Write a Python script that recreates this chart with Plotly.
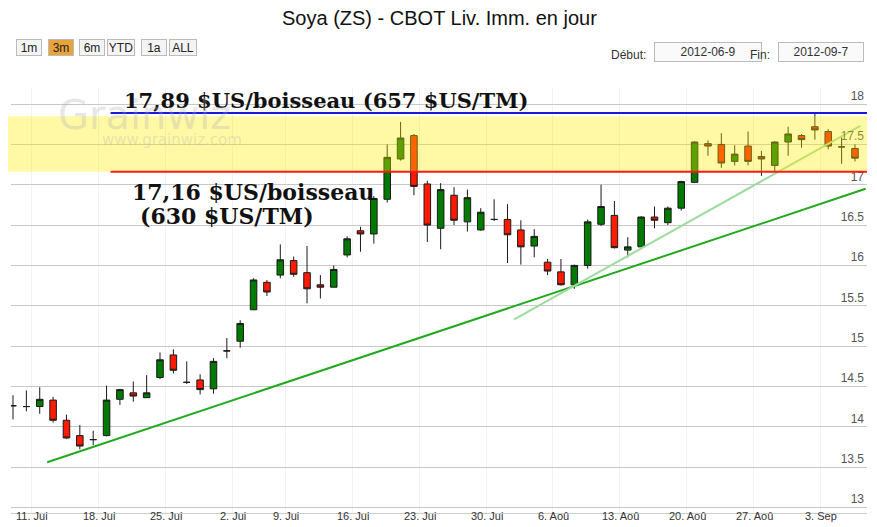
import pandas as pd
import plotly.graph_objects as go

# trading days 2012-06-08 .. 2012-09-07 (no 4 Jul, no 3 Sep)
dates = [d for d in pd.bdate_range("2012-06-08", "2012-09-07")
         if d.strftime("%m-%d") not in ("07-04", "09-03")]

opens = [14.26, 14.25, 14.25, 14.33, 14.08, 13.89, 13.84, 13.89, 14.34, 14.42,
         14.36, 14.61, 14.89, 14.55, 14.58, 14.47, 14.94, 15.06, 15.45, 15.79,
         15.88, 16.06, 15.91, 15.76, 15.73, 16.13, 16.43, 16.39, 16.82, 17.32,
         17.61, 17.01, 16.46, 16.87, 16.54, 16.44, 16.57, 16.57, 16.44, 16.24,
         16.04, 15.92, 15.76, 16.00, 16.51, 16.62, 16.19, 16.23, 16.60, 16.53,
         16.71, 17.03, 17.51, 17.50, 17.29, 17.48, 17.35, 17.24, 17.53, 17.61,
         17.72, 17.66, 17.47, 17.45]
highs = [14.39, 14.45, 14.49, 14.37, 14.15, 14.02, 13.95, 14.51, 14.47, 14.56,
         14.64, 14.92, 14.96, 14.81, 14.65, 14.85, 15.10, 15.32, 15.84, 15.82,
         16.26, 16.11, 16.24, 15.88, 16.00, 16.36, 16.48, 16.86, 17.50, 17.78,
         17.63, 17.05, 17.02, 16.97, 16.94, 16.71, 16.82, 16.76, 16.56, 16.45,
         16.08, 16.08, 16.01, 16.57, 17.00, 16.80, 16.35, 16.61, 16.73, 16.73,
         17.05, 17.54, 17.55, 17.64, 17.49, 17.66, 17.42, 17.54, 17.72, 17.63,
         17.90, 17.69, 17.59, 17.50]
lows = [14.09, 14.19, 14.16, 14.05, 13.85, 13.72, 13.77, 13.88, 14.27, 14.31,
        14.36, 14.59, 14.66, 14.53, 14.40, 14.41, 14.85, 14.98, 15.45, 15.62,
        15.84, 15.86, 15.53, 15.59, 15.73, 16.10, 16.17, 16.27, 16.78, 17.30,
        16.87, 16.29, 16.20, 16.50, 16.42, 16.43, 16.55, 16.03, 16.01, 16.10,
        15.88, 15.75, 15.71, 15.96, 16.49, 16.21, 16.10, 16.23, 16.46, 16.50,
        16.68, 17.03, 17.36, 17.21, 17.24, 17.24, 17.11, 17.17, 17.36, 17.46,
        17.56, 17.44, 17.26, 17.29]
closes = [14.26, 14.25, 14.34, 14.08, 13.86, 13.76, 13.84, 14.33, 14.46, 14.38,
          14.42, 14.83, 14.70, 14.55, 14.46, 14.81, 14.94, 15.28, 15.82, 15.67,
          16.07, 15.89, 15.71, 15.73, 15.95, 16.33, 16.39, 16.83, 17.34, 17.58,
          16.98, 16.50, 16.94, 16.56, 16.84, 16.66, 16.57, 16.38, 16.23, 16.36,
          15.93, 15.76, 16.00, 16.54, 16.73, 16.22, 16.23, 16.60, 16.56, 16.71,
          17.04, 17.53, 17.48, 17.27, 17.38, 17.29, 17.32, 17.53, 17.63, 17.56,
          17.68, 17.48, 17.47, 17.33]

tick_idx = [1, 6, 11, 16, 20, 25, 30, 35, 40, 45, 50, 55, 60]
tick_labels = ["11. Jui", "18. Jui", "25. Jui", "2. Jui", "9. Jui", "16. Jui",
               "23. Jui", "30. Jui", "6. Aoû", "13. Aoû", "20. Aoû", "27. Aoû", "3. Sep"]

resistance = 17.89
support = 17.16
band_top = 17.85
trend_main = ([2.56, 63.8], [13.56, 16.95])
trend_short = ([37.5, 63.4], [15.33, 17.73])

x = list(range(len(dates)))

# the page adds an 8px offset on both sides, so the figure is drawn 8px smaller
OFF = 8
W, H = 877 - OFF, 527 - OFF
L, R, T, B = 11 - OFF, 10, 88 - OFF, 14


def px(xp):
    return (xp - OFF - L) / (W - L - R)


def py(yp):
    return (H - B - (yp - OFF)) / (H - T - B)


def note(text, xp, yp, xanchor="center", **kw):
    fig.add_annotation(xref="paper", yref="paper", x=px(xp), y=py(yp), xanchor=xanchor,
                       yanchor="middle", text=text, showarrow=False, **kw)


fig = go.Figure()
fig.add_trace(go.Candlestick(
    x=x, open=opens, high=highs, low=lows, close=closes,
    increasing=dict(line=dict(color="#1a1a1a", width=1), fillcolor="#007a00"),
    decreasing=dict(line=dict(color="#1a1a1a", width=1), fillcolor="#ff1a00"),
    whiskerwidth=0, showlegend=False, hoverinfo="skip",
))
fig.add_trace(go.Scatter(x=trend_main[0], y=trend_main[1], mode="lines",
                         line=dict(color="#1faa1f", width=2), showlegend=False))
fig.add_trace(go.Scatter(x=trend_short[0], y=trend_short[1], mode="lines",
                         line=dict(color="#9ddc9d", width=2), showlegend=False))

# yellow zone on top of the candles (tints them)
fig.add_shape(type="rect", xref="paper", x0=px(1), x1=1, y0=support, y1=band_top,
              fillcolor="rgba(255,238,0,0.35)", line_width=0, layer="above")
fig.add_shape(type="line", x0=7.3, x1=63.9, y0=resistance, y1=resistance,
              line=dict(color="#1a1adc", width=2), layer="above")
fig.add_shape(type="line", x0=7.3, x1=63.9, y0=support, y1=support,
              line=dict(color="#ff1a1a", width=2), layer="above")

serif = dict(family="DejaVu Serif", size=21, color="#111")
serif2 = dict(family="DejaVu Serif", size=22, color="#111")
fig.add_annotation(x=px(326), xref="paper", xanchor="center", y=resistance, yshift=13,
                   text="<b>17,89 $US/boisseau (657 $US/TM)</b>", showarrow=False, font=serif)
fig.add_annotation(x=px(130), xref="paper", xanchor="left", y=support, yshift=-20,
                   text="<b>17,16 $US/boisseau</b>", showarrow=False, font=serif2)
fig.add_annotation(x=px(138), xref="paper", xanchor="left", y=support, yshift=-44,
                   text="<b>(630 $US/TM)</b>", showarrow=False, font=serif2)

# watermark
fig.add_annotation(x=px(56), xref="paper", xanchor="left", y=17.87, text="Grainwiz",
                   showarrow=False, font=dict(family="DejaVu Sans", size=40, color="rgba(170,170,170,0.3)"))
fig.add_annotation(x=px(100), xref="paper", xanchor="left", y=17.55, text="www.grainwiz.com",
                   showarrow=False, font=dict(family="DejaVu Sans", size=15, color="rgba(170,170,170,0.3)"))

# date labels under the axis
for i, lab in zip(tick_idx, tick_labels):
    fig.add_annotation(x=i + 0.45, y=py(516), yref="paper", yanchor="middle", text=lab,
                       showarrow=False, font=dict(family="Liberation Sans", size=11, color="#333"))

# title and range selector look
note("Soya (ZS) - CBOT Liv. Imm. en jour", 440, 18,
     font=dict(family="Liberation Sans", size=20, color="#111"))
buttons = [("1m", 29, 28), ("3m", 61, 28), ("6m", 92, 28), ("YTD", 121, 30), ("1a", 154, 28), ("ALL", 183, 30)]
for lab, xc, w in buttons:
    note(lab, xc, 47, width=w - 6, height=13,
         font=dict(family="Liberation Sans", size=12, color="#222"),
         bgcolor="#e8a33a" if lab == "3m" else "#f4f4f4", bordercolor="#bbb", borderwidth=1)
box_font = dict(family="Liberation Sans", size=12, color="#333")
note("Début:", 648, 55, xanchor="right", font=box_font)
note("2012-06-9", 708, 52, width=104, height=16, bordercolor="#bbb", borderwidth=1,
     bgcolor="#fafafa", font=box_font)
note("Fin:", 772, 55, xanchor="right", font=box_font)
note("2012-09-7", 821, 52, width=82, height=16, bordercolor="#bbb", borderwidth=1,
     bgcolor="#fafafa", font=box_font)

fig.update_layout(
    width=W, height=H,
    margin=dict(l=L, r=R, t=T, b=B, autoexpand=False),
    paper_bgcolor="white", plot_bgcolor="white",
    xaxis=dict(range=[-0.15, 63.9], tickvals=[i + 0.4 for i in tick_idx], showticklabels=False,
               rangeslider=dict(visible=False), showgrid=True, gridcolor="#f2f2f2",
               ticks="", showline=True, linecolor="#ccc", zeroline=False, automargin=False),
    yaxis=dict(range=[12.93, 18.2], side="right", ticklabelposition="inside top",
               tickvals=[13, 13.5, 14, 14.5, 15, 15.5, 16, 16.5, 17, 17.5, 18],
               ticktext=["13", "13.5", "14", "14.5", "15", "15.5", "16", "16.5", "17", "17.5", "18"],
               gridcolor="#c8c8c8", zeroline=False, automargin=False,
               tickfont=dict(family="Liberation Sans", size=12, color="#555")),
)

fig.write_html("out.html")
